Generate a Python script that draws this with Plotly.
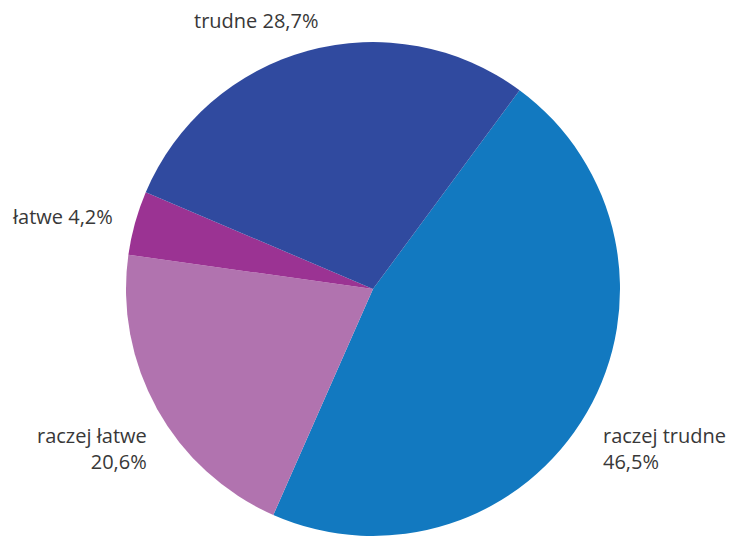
import plotly.graph_objects as go

labels = ["raczej trudne", "raczej łatwe", "łatwe", "trudne"]
values = [46.5, 20.6, 4.2, 28.7]
value_text = ["46,5%", "20,6%", "4,2%", "28,7%"]
colors = ["#1279C0", "#B173AF", "#9B3393", "#304A9F"]

W, H = 734, 536
OFF = 8  # page body margin offset

def fx(x):
    return (x - OFF) / W

def fy(y):
    return 1 - (y - OFF) / H

cx, cy, r = 373, 289, 247

fig = go.Figure(go.Pie(
    labels=labels,
    values=values,
    sort=False,
    direction="clockwise",
    rotation=36.4,
    marker=dict(colors=colors, line=dict(width=0)),
    textinfo="none",
    hoverinfo="label+percent",
    domain=dict(x=[fx(cx - r), fx(cx + r)], y=[fy(cy + r), fy(cy - r)]),
    showlegend=False,
))

font = dict(family="Open Sans", size=20, color="#383838")

annots = [
    (3, 256, 21, "center", False),
    (2, 10, 216, "left", False),
    (1, 149, 448, "right", True),
    (0, 601, 448, "left", True),
]
for i, x, y, xa, two in annots:
    txt = f"{labels[i]}<br>{value_text[i]}" if two else f"{labels[i]} {value_text[i]}"
    fig.add_annotation(x=fx(x), y=fy(y), xref="paper", yref="paper", text=txt,
                       showarrow=False, xanchor=xa, yanchor="middle",
                       align=xa, font=font)

fig.update_layout(width=W, height=H, margin=dict(l=0, r=0, t=0, b=0),
                  paper_bgcolor="white", plot_bgcolor="white")
fig.write_html("out.html")
